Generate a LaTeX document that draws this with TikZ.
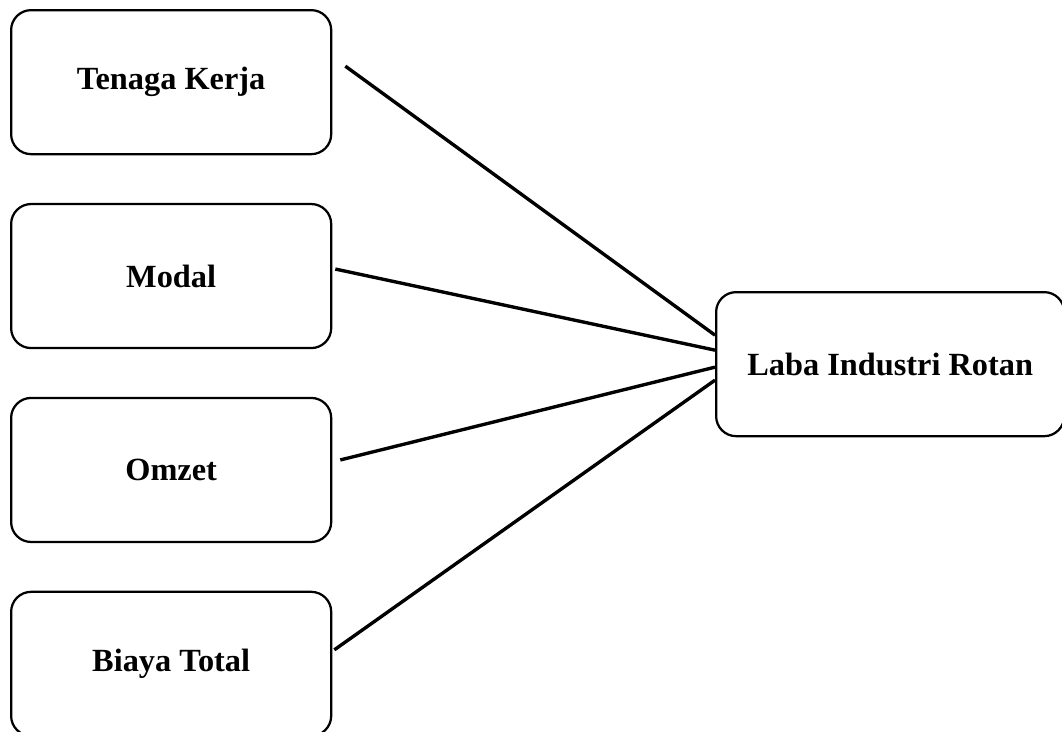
\documentclass[tikz,border=0pt]{standalone}
\usepackage{fontspec}
\setmainfont{Liberation Serif}
\usepackage{tikz}
\usetikzlibrary{positioning, calc}

\begin{document}
\begin{tikzpicture}[x=0.025cm, y=-0.025cm, node distance=1.19cm,
    box/.style={draw, line width=1.6pt, rounded corners=0.5cm,
      minimum width=8cm, minimum height=3.6cm, text centered,
      font=\fontsize{23}{27}\selectfont\bfseries},
    link/.style={line width=2.4pt}]
    \useasboundingbox (0,0) rectangle (1062,731);
    \node[box, anchor=north west] (tenaga) at (10,9) {Tenaga Kerja};
    \node[box, below=of tenaga] (modal) {Modal};
    \node[box, below=of modal] (omzet) {Omzet};
    \node[box, below=of omzet] (biaya) {Biaya Total};
    \node[box, minimum width=8.7cm, anchor=north west] (laba) at (715,291)
      {Laba Industri Rotan};
    % free ends of the lines
    \coordinate (tenaga-out) at ($(tenaga.east)+(13,-16)$);
    \coordinate (modal-out) at ($(modal.east)+(3,-7)$);
    \coordinate (omzet-out) at ($(omzet.east)+(8,-10)$);
    \coordinate (biaya-out) at ($(biaya.east)+(2,-14)$);
    \draw[link] (tenaga-out) -- ($(laba.west)+(0,-29)$);
    \draw[link] (modal-out) -- ($(laba.west)+(0,-14)$);
    \draw[link] (omzet-out) -- ($(laba.west)+(0,3)$);
    \draw[link] (biaya-out) -- ($(laba.west)+(0,16)$);
\end{tikzpicture}
\end{document}
